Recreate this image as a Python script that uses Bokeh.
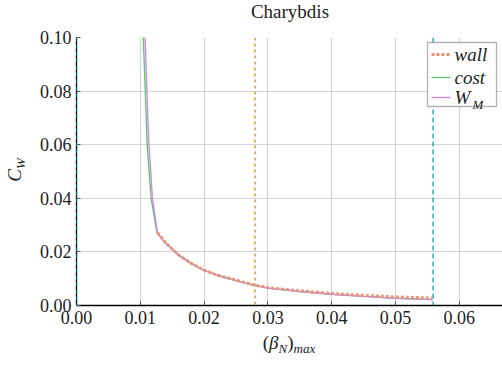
from bokeh.plotting import figure
from bokeh.models import Span, Label, FixedTicker, NumeralTickFormatter, BoxAnnotation, Div
from bokeh.layouts import column, row
from bokeh.embed import file_html
from bokeh.resources import INLINE

# ---- data ----
x_cost = [0.0101, 0.0111, 0.0117, 0.0126, 0.014, 0.016, 0.018, 0.020, 0.022, 0.025,
          0.028, 0.030, 0.035, 0.040, 0.045, 0.050, 0.0558]
cost = [0.124, 0.059, 0.040, 0.0272, 0.0232, 0.0188, 0.0156, 0.0131, 0.0113, 0.0093,
        0.0074, 0.0065, 0.0052, 0.0042, 0.0034, 0.0027, 0.0022]
x_wm = [0.0104, 0.0113, 0.0119, 0.0127, 0.014, 0.016, 0.018, 0.020, 0.022, 0.025,
        0.028, 0.030, 0.035, 0.040, 0.045, 0.050, 0.0558]
wm = [0.124, 0.062, 0.040, 0.0270, 0.0232, 0.0188, 0.0156, 0.0131, 0.0113, 0.0093,
      0.0074, 0.0065, 0.0052, 0.0042, 0.0034, 0.0027, 0.0022]
x_wall = [0.0127, 0.014, 0.016, 0.018, 0.020, 0.022, 0.025, 0.028, 0.030, 0.035,
          0.040, 0.045, 0.050, 0.0558]
wall = [0.0272, 0.0233, 0.0189, 0.0157, 0.0132, 0.0114, 0.0095, 0.0076, 0.0067, 0.0055,
        0.0045, 0.0038, 0.0032, 0.0028]
vline_cyan = 0.0
vline_gold = 0.028
vline_teal = 0.0559
x_ticks = [0.0, 0.01, 0.02, 0.03, 0.04, 0.05, 0.06]
y_ticks = [0.0, 0.02, 0.04, 0.06, 0.08, 0.10]
title_text = "Charybdis"
legend_labels = ["wall", "cost", "W"]
legend_sub = "M"

C_WALL, C_COST, C_WM = "#ee8e6e", "#6cc07c", "#cc8ee0"
SERIF = "Liberation Serif"
CSS_FONT = "font-family:'Liberation Serif',serif;color:#222222;"

# ---- layout geometry (page pixels) ----
PAGE_W, PAGE_H = 502, 365
TITLE_H = 26
YLAB_W = 30
XLAB_H = 30
P_W = PAGE_W - YLAB_W
P_H = PAGE_H - TITLE_H - XLAB_H
BL, BR, BT, BB = 46, 0, 11, 30
FL = YLAB_W + BL          # frame left on page
FT = TITLE_H + BT         # frame top on page
FW = P_W - BL - BR
FH = P_H - BT - BB
X0, X1 = 0.0, FW / 6380.0
Y0, Y1 = 0.0, 0.10

def dx(px):
    return X0 + (px - FL) / FW * (X1 - X0)

def dy(py):
    return Y0 + (FT + FH - py) / FH * (Y1 - Y0)

p = figure(width=P_W, height=P_H, output_backend="svg", toolbar_location=None,
           x_range=(X0, X1), y_range=(Y0, Y1),
           min_border_left=BL, min_border_right=BR, min_border_top=BT, min_border_bottom=BB)
p.outline_line_color = None

for ax in (p.xaxis[0], p.yaxis[0]):
    ax.axis_line_color = "black"
    ax.axis_line_width = 1.3
    ax.major_tick_in = 4
    ax.major_tick_out = 0
    ax.major_tick_line_color = "#555555"
    ax.minor_tick_line_color = None
    ax.major_label_text_font = SERIF
    ax.major_label_text_font_size = "18px"
    ax.major_label_text_color = "#222222"
    ax.formatter = NumeralTickFormatter(format="0.00")
p.xaxis[0].ticker = FixedTicker(ticks=x_ticks)
p.yaxis[0].ticker = FixedTicker(ticks=y_ticks)
p.xaxis[0].major_label_standoff = 5
p.yaxis[0].major_label_standoff = 5

p.xgrid.grid_line_color = "#d4d4d4"
p.ygrid.grid_line_color = "#d4d4d4"
p.xgrid.grid_line_width = 1.2
p.ygrid.grid_line_width = 1.2

p.add_layout(Span(location=vline_cyan, dimension="height", line_color="#10c8d4",
                  line_width=1.5, line_dash="4 3"))
p.add_layout(Span(location=vline_gold, dimension="height", line_color="#d0b466",
                  line_width=2, line_dash="3 3"))
p.add_layout(Span(location=vline_teal, dimension="height", line_color="#1a9c9a",
                  line_width=1.3, line_dash="5 3"))

p.line(x_cost, cost, line_color=C_COST, line_width=1.4)
p.line(x_wm, wm, line_color=C_WM, line_width=1.4)
p.line(x_wall, wall, line_color=C_WALL, line_width=3, line_dash="3 2", line_alpha=0.9)

# ---- legend (drawn by hand so that W_M can carry its subscript) ----
p.add_layout(BoxAnnotation(left=dx(427), right=dx(496), top=dy(42), bottom=dy(106),
                           fill_color="white", fill_alpha=1.0,
                           line_color="black", line_width=1.3))
rows_y = [54, 77, 97]
styles = [(C_WALL, 3, "3 2"), (C_COST, 1.4, "solid"), (C_WM, 1.4, "solid")]
for (col, lw, dash), ry, txt in zip(styles, rows_y, legend_labels):
    p.segment(x0=[dx(431)], y0=[dy(ry)], x1=[dx(450)], y1=[dy(ry)],
              line_color=col, line_width=lw, line_dash=dash, level="overlay")
    p.add_layout(Label(x=dx(454), y=dy(ry), text=txt, text_font=SERIF,
                       text_font_size="19px", text_font_style="italic",
                       text_baseline="middle", text_color="#222222", level="overlay"))
p.add_layout(Label(x=dx(472), y=dy(104), text=legend_sub, text_font=SERIF,
                   text_font_size="13px", text_font_style="italic",
                   text_baseline="alphabetic", text_color="#222222", level="overlay"))

# ---- title and axis labels as HTML so that subscripts stay real text ----
title_div = Div(width=PAGE_W, height=TITLE_H, margin=0, text=(
    f'<div style="position:relative;width:{PAGE_W}px;height:{TITLE_H}px;">'
    f'<div style="position:absolute;left:190px;top:1px;width:200px;text-align:center;'
    f'{CSS_FONT}font-size:19px;line-height:22px;white-space:nowrap;">{title_text}</div></div>'))

yc = 170 - TITLE_H
ylab_div = Div(width=YLAB_W, height=P_H, margin=0, text=(
    f'<div style="position:relative;width:{YLAB_W}px;height:{P_H}px;">'
    f'<div style="position:absolute;left:{15 - 30}px;top:{yc - 12}px;width:60px;height:24px;'
    f'line-height:24px;text-align:center;transform:rotate(-90deg);transform-origin:50% 50%;'
    f'{CSS_FONT}font-size:19px;white-space:nowrap;">'
    f'<i>C</i><sub style="font-size:13px;vertical-align:-4px;"><i>W</i></sub></div></div>'))

xlab_div = Div(width=PAGE_W, height=XLAB_H, margin=0, text=(
    f'<div style="position:relative;width:{PAGE_W}px;height:{XLAB_H}px;">'
    f'<div style="position:absolute;left:229px;top:-3px;width:120px;text-align:center;'
    f'{CSS_FONT}font-size:19px;line-height:22px;white-space:nowrap;">'
    f'(<i>β</i><sub style="font-size:13px;vertical-align:-4px;"><i>N</i></sub>)'
    f'<sub style="font-size:13px;vertical-align:-4px;"><i>max</i></sub></div></div>'))

layout = column(title_div, row(ylab_div, p, spacing=0), xlab_div, spacing=0)

open("out.html", "w").write(file_html(layout, INLINE))
